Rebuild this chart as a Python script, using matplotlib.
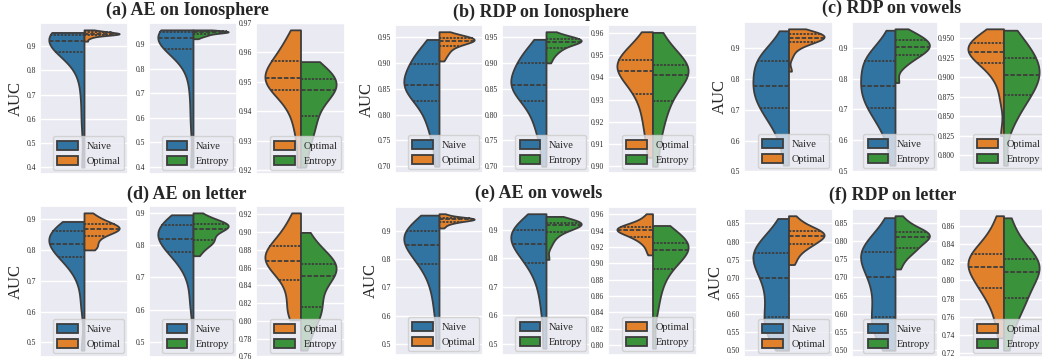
import numpy as np
import pandas as pd
import matplotlib
matplotlib.use("Agg")
import matplotlib.pyplot as plt
import seaborn as sns
from matplotlib.ticker import MultipleLocator

# ---------------- data (AUC samples) ----------------
naive_a = [0.40, 0.58, 0.70, 0.79, 0.84, 0.878, 0.89, 0.90, 0.91, 0.917, 0.923,
           0.928, 0.933, 0.938, 0.943, 0.947, 0.949, 0.951, 0.953, 0.955, 0.957]
optimal_a = [0.921, 0.932, 0.938, 0.942, 0.945, 0.9471, 0.948, 0.949, 0.950, 0.9505, 0.9512,
             0.952, 0.953, 0.954, 0.9555, 0.9571, 0.958, 0.960, 0.962, 0.965, 0.9677]
entropy_a = [0.921, 0.927, 0.931, 0.934, 0.936, 0.9383, 0.941, 0.943, 0.945, 0.946, 0.9471,
             0.948, 0.9485, 0.949, 0.950, 0.951, 0.952, 0.953, 0.9545, 0.956, 0.9569]

naive_b = [0.70, 0.75, 0.775, 0.795, 0.812, 0.8256, 0.836, 0.845, 0.851, 0.855, 0.858,
           0.862, 0.867, 0.874, 0.885, 0.899, 0.903, 0.908, 0.915, 0.925, 0.9456]
optimal_b = [0.904, 0.913, 0.919, 0.924, 0.929, 0.9326, 0.935, 0.938, 0.940, 0.9415, 0.9431,
             0.944, 0.945, 0.946, 0.947, 0.9479, 0.949, 0.951, 0.953, 0.956, 0.9606]
entropy_b = [0.900, 0.910, 0.917, 0.922, 0.926, 0.9296, 0.932, 0.935, 0.938, 0.940, 0.9413,
             0.942, 0.943, 0.944, 0.945, 0.9456, 0.947, 0.949, 0.952, 0.956, 0.9603]

naive_c = [0.52, 0.60, 0.645, 0.672, 0.692, 0.706, 0.722, 0.738, 0.752, 0.765, 0.776,
           0.787, 0.800, 0.815, 0.835, 0.857, 0.862, 0.869, 0.878, 0.895, 0.956]
optimal_c = [0.825, 0.872, 0.895, 0.905, 0.912, 0.9183, 0.922, 0.925, 0.928, 0.931, 0.9329,
             0.935, 0.937, 0.939, 0.942, 0.9444, 0.947, 0.950, 0.953, 0.957, 0.9624]
entropy_c = [0.787, 0.835, 0.852, 0.862, 0.870, 0.8776, 0.883, 0.888, 0.893, 0.898, 0.9029,
             0.907, 0.911, 0.915, 0.920, 0.9251, 0.930, 0.936, 0.943, 0.951, 0.9606]

naive_d = [0.475, 0.62, 0.70, 0.74, 0.76, 0.777, 0.787, 0.797, 0.805, 0.812, 0.819,
           0.826, 0.833, 0.840, 0.851, 0.862, 0.864, 0.867, 0.870, 0.876, 0.8935]
optimal_d = [0.801, 0.806, 0.814, 0.826, 0.837, 0.8454, 0.853, 0.859, 0.863, 0.866, 0.8677,
             0.870, 0.873, 0.876, 0.879, 0.8842, 0.888, 0.893, 0.900, 0.910, 0.9215]
entropy_d = [0.767, 0.785, 0.798, 0.806, 0.811, 0.8155, 0.820, 0.830, 0.840, 0.846, 0.8509,
             0.854, 0.857, 0.859, 0.862, 0.8644, 0.867, 0.871, 0.877, 0.886, 0.8995]

naive_e = [0.485, 0.60, 0.67, 0.72, 0.755, 0.7825, 0.80, 0.815, 0.828, 0.839, 0.849,
           0.862, 0.872, 0.880, 0.889, 0.899, 0.903, 0.908, 0.915, 0.927, 0.9558]
optimal_e = [0.9104, 0.918, 0.924, 0.928, 0.931, 0.9325, 0.935, 0.937, 0.9385, 0.9396, 0.9406,
             0.9415, 0.9422, 0.943, 0.944, 0.9449, 0.946, 0.948, 0.951, 0.955, 0.9608]
entropy_e = [0.796, 0.840, 0.860, 0.874, 0.885, 0.8929, 0.899, 0.904, 0.909, 0.913, 0.9162,
             0.918, 0.920, 0.922, 0.9235, 0.9251, 0.927, 0.930, 0.934, 0.940, 0.9464]

naive_f = [0.50, 0.53, 0.552, 0.568, 0.58, 0.5912, 0.62, 0.645, 0.665, 0.685, 0.70,
           0.727, 0.741, 0.750, 0.758, 0.769, 0.776, 0.784, 0.795, 0.812, 0.8638]
optimal_f = [0.7367, 0.755, 0.770, 0.780, 0.787, 0.7922, 0.797, 0.802, 0.807, 0.811, 0.815,
             0.818, 0.820, 0.823, 0.826, 0.8296, 0.834, 0.839, 0.846, 0.856, 0.8714]
entropy_f = [0.723, 0.745, 0.760, 0.768, 0.775, 0.7812, 0.787, 0.793, 0.799, 0.805, 0.8095,
             0.812, 0.815, 0.818, 0.821, 0.8241, 0.828, 0.834, 0.842, 0.853, 0.8691]

titles = ["(a) AE on Ionosphere", "(b) RDP on Ionosphere", "(c) RDP on vowels",
          "(d) AE on letter", "(e) AE on vowels", "(f) RDP on letter"]
method_names = ["Naive", "Optimal", "Entropy"]
group_data = [
    (naive_a, optimal_a, entropy_a),
    (naive_b, optimal_b, entropy_b),
    (naive_c, optimal_c, entropy_c),
    (naive_d, optimal_d, entropy_d),
    (naive_e, optimal_e, entropy_e),
    (naive_f, optimal_f, entropy_f),
]
pairs = [("Naive", "Optimal"), ("Naive", "Entropy"), ("Optimal", "Entropy")]
tick_steps = [
    (0.1, 0.1, 0.01),
    (0.05, 0.05, 0.01),
    (0.1, 0.1, 0.025),
    (0.1, 0.1, 0.02),
    (0.1, 0.1, 0.02),
    (0.05, 0.05, 0.02),
]

# ---------------- layout (pixels) ----------------
W, H = 1042, 360
panel_x = [
    [(40, 128), (149, 237), (256, 345)],
    [(395, 483), (502, 590), (608, 697)],
    [(744, 833), (852, 938), (959, 1048)],
    [(40, 128), (149, 237), (256, 345)],
    [(395, 483), (502, 590), (608, 697)],
    [(744, 833), (852, 938), (959, 1048)],
]
panel_y = [(23, 174), (25, 173), (22, 172), (206, 357), (207, 355), (209, 357)]
title_pos = [(187, 10), (541, 12), (892, 8), (187, 194), (539, 193), (893, 195)]

sns.set_theme(style="darkgrid")
plt.rcParams["font.family"] = ["Liberation Serif", "DejaVu Serif"]

palette = {"Naive": "#1f77b4", "Optimal": "#ff7f0e", "Entropy": "#2ca02c"}

fig = plt.figure(figsize=(W / 100, H / 100), dpi=100)

for g in range(6):
    data = dict(zip(method_names, group_data[g]))
    top, bot = panel_y[g]
    for p, (m1, m2) in enumerate(pairs):
        l, r = panel_x[g][p]
        ax = fig.add_axes([l / W, 1 - bot / H, (r - l) / W, (bot - top) / H])
        df = pd.DataFrame({
            "g": ["x"] * (len(data[m1]) + len(data[m2])),
            "AUC": list(data[m1]) + list(data[m2]),
            "method": [m1] * len(data[m1]) + [m2] * len(data[m2]),
        })
        kw = dict(data=df, x="g", y="AUC", hue="method", hue_order=[m1, m2],
                  split=True, inner="quart", cut=0, palette=palette, ax=ax,
                  linewidth=1.3, bw_adjust=0.85)
        try:
            sns.violinplot(density_norm="width", **kw)
        except TypeError:
            sns.violinplot(scale="width", **kw)
        ax.set_xlabel("")
        ax.set_xticks([])
        ax.yaxis.set_major_locator(MultipleLocator(tick_steps[g][p]))
        ax.tick_params(axis="y", labelsize=5.5, pad=3, length=0)
        if p == 0:
            ax.set_ylabel("AUC", fontsize=12, labelpad=2)
        else:
            ax.set_ylabel("")
        leg = ax.get_legend()
        handles = leg.legend_handles
        labels = [t.get_text() for t in leg.get_texts()]
        leg.remove()
        ax.legend(handles, labels, loc="lower right", fontsize=7.5,
                  handlelength=2.0, handleheight=1.0, borderaxespad=0.35)
    tx, ty = title_pos[g]
    fig.text(tx / W, 1 - ty / H, titles[g], ha="center", va="center",
             fontsize=13, fontweight="bold")

fig.savefig("out.png", dpi=100)
